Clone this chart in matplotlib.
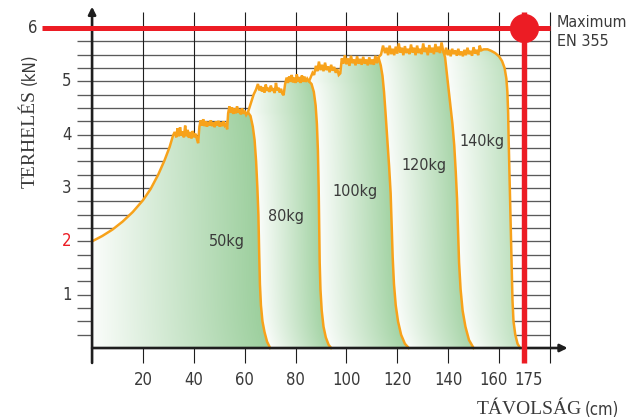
import numpy as np
import matplotlib
matplotlib.use('Agg')
import matplotlib.pyplot as plt
from matplotlib.patches import Polygon
from matplotlib.colors import to_rgb

# ---------------- data ----------------
region_labels = ['50kg', '80kg', '100kg', '120kg', '140kg']
label_x = [53.1, 76.3, 103.4, 130.6, 153.3]
label_y = [1.99, 2.46, 2.93, 3.43, 3.87]

# top (plateau) curves
top50_x = [0, 4, 8, 12, 16, 20, 23, 26, 28.5, 30.5, 31.8,
           32.5, 33.1, 33.6, 34.1, 34.6, 35.1, 35.6, 36.1, 36.6, 37.1, 37.6, 38.1, 38.6, 39.1, 39.6, 40.1, 40.6, 41.2, 41.7,
           42.2, 42.7, 43.2, 43.7, 44.2, 44.7, 45.2, 45.7, 46.2, 46.7, 47.2, 47.7, 48.2, 48.7, 49.2, 49.7, 50.2, 50.7, 51.2, 51.7, 52.2, 52.7, 53.1,
           53.5, 54, 54.5, 55, 55.5, 56, 56.5, 57, 57.5, 58, 58.5, 59, 59.5, 60, 60.6, 61.3]
top50_y = [2.0, 2.1, 2.22, 2.37, 2.55, 2.77, 2.98, 3.25, 3.52, 3.77, 3.98,
           4.05, 3.95, 4.12, 3.97, 4.14, 3.98, 4.06, 3.95, 4.17, 3.97, 4.09, 3.94, 4.05, 3.93, 4.07, 3.95, 4.02, 3.92, 3.84,
           4.15, 4.27, 4.17, 4.29, 4.16, 4.25, 4.15, 4.24, 4.17, 4.27, 4.16, 4.23, 4.14, 4.25, 4.17, 4.26, 4.15, 4.23, 4.16, 4.25, 4.17, 4.2, 4.1,
           4.4, 4.53, 4.41, 4.51, 4.39, 4.49, 4.4, 4.53, 4.41, 4.48, 4.38, 4.49, 4.39, 4.45, 4.37, 4.42]

top80_x = [62.5, 63.5, 64.5, 65.2, 65.8, 66.3, 66.8, 67.3, 67.8, 68.3, 68.8, 69.3, 69.8, 70.3, 70.8, 71.3, 71.8, 72.3, 72.8,
           73.3, 73.8, 74.3, 74.8, 75.3, 75.9, 76.5, 77, 77.5, 78, 78.5, 79, 79.5, 80, 80.5, 81, 81.5, 82, 82.5, 83, 83.5, 84, 84.6, 85.3]
top80_y = [4.6, 4.75, 4.85, 4.95, 4.83, 4.91, 4.81, 4.89, 4.79, 4.94, 4.82, 4.88, 4.8, 4.92, 4.82, 4.87, 4.78, 4.97, 4.83,
           4.88, 4.79, 4.86, 4.77, 4.74, 4.95, 5.07, 4.97, 5.09, 4.99, 5.12, 4.98, 5.07, 4.97, 5.13, 4.99, 5.08, 4.97, 5.11, 4.99, 5.09, 4.99, 5.05, 5.0]

top100_x = [86, 86.7, 87.3, 88, 88.6, 89.2, 89.8, 90.4, 91, 91.6, 92.2, 92.8, 93.4, 94, 94.6, 95.2, 95.8, 96.4, 97, 97.6,
            98.2, 98.8, 99.4, 100, 100.6, 101.2, 101.8, 102.4, 103, 103.6, 104.2, 104.8, 105.4, 106, 106.6, 107.2, 107.8,
            108.4, 109, 109.6, 110.2, 110.8, 111.4, 112, 112.6]
top100_y = [5.08, 5.16, 5.12, 5.29, 5.19, 5.37, 5.21, 5.31, 5.19, 5.35, 5.21, 5.28, 5.17, 5.31, 5.2, 5.27, 5.16, 5.23, 5.12, 5.15,
            5.43, 5.33, 5.49, 5.32, 5.43, 5.29, 5.48, 5.34, 5.41, 5.3, 5.47, 5.33, 5.42, 5.31, 5.46, 5.33, 5.41,
            5.3, 5.45, 5.32, 5.41, 5.31, 5.48, 5.34, 5.45]

top120_x = [113.6, 114.4, 115.2, 115.8, 116.4, 117, 117.6, 118.2, 118.8, 119.4, 120, 120.6, 121.2, 121.8, 122.4, 123, 123.6,
            124.2, 124.8, 125.4, 126, 126.6, 127.2, 127.8, 128.4, 129, 129.6, 130.2, 130.8, 131.4, 132, 132.6, 133.2, 133.8,
            134.4, 135, 135.6, 136.2, 136.8, 137.4, 138]
top120_y = [5.5, 5.67, 5.53, 5.63, 5.49, 5.67, 5.51, 5.61, 5.49, 5.65, 5.52, 5.71, 5.54, 5.63, 5.49, 5.66, 5.53,
            5.61, 5.51, 5.69, 5.54, 5.63, 5.49, 5.67, 5.53, 5.61, 5.51, 5.71, 5.55, 5.63, 5.49, 5.68, 5.54, 5.63,
            5.51, 5.7, 5.55, 5.65, 5.53, 5.73, 5.58]

top140_x = [138.6, 139.2, 139.8, 140.4, 141, 141.6, 142.2, 142.8, 143.4, 144, 144.6, 145.2, 145.8, 146.4, 147, 147.6,
            148.2, 148.8, 149.4, 150, 150.6, 151.2, 151.8, 152.4, 153, 154, 155.5, 157]
top140_y = [5.5, 5.63, 5.49, 5.59, 5.47, 5.61, 5.51, 5.58, 5.48, 5.61, 5.49, 5.56, 5.47, 5.59, 5.49, 5.63,
            5.51, 5.57, 5.48, 5.64, 5.52, 5.59, 5.49, 5.67, 5.58, 5.6, 5.6, 5.57]

# right (falling) edges, from below the corner down to the x axis
edge50_x = [62.3, 63.2, 63.9, 64.5, 65, 65.4, 65.7, 66, 66.4, 67, 67.8, 68.8, 70]
edge50_y = [4.35, 4.15, 3.9, 3.5, 3.0, 2.5, 1.8, 1.2, 0.8, 0.5, 0.3, 0.12, 0]
edge80_x = [86.3, 87.2, 87.9, 88.4, 88.8, 89.1, 89.3, 89.5, 89.8, 90.3, 91, 91.9, 93, 94]
edge80_y = [4.95, 4.8, 4.55, 4.2, 3.7, 3.0, 2.3, 1.6, 1.1, 0.7, 0.4, 0.2, 0.06, 0]
edge100_x = [113.5, 114.2, 114.8, 115.4, 116.1, 116.8, 117.4, 117.8, 118.2, 118.7, 119.4, 120.3, 121.5, 123, 124.5]
edge100_y = [5.3, 5.1, 4.8, 4.4, 3.9, 3.4, 2.9, 2.3, 1.7, 1.2, 0.8, 0.5, 0.25, 0.08, 0]
edge120_x = [138.8, 139.6, 140.3, 141, 141.7, 142.4, 143, 143.5, 143.9, 144.3, 144.9, 145.7, 146.8, 148.2, 150]
edge120_y = [5.45, 5.1, 4.8, 4.5, 4.2, 3.8, 3.3, 2.8, 2.2, 1.6, 1.1, 0.7, 0.4, 0.15, 0]
edge140_x = [158.5, 160, 161.2, 162.2, 162.9, 163.3, 163.6, 163.8, 164.1, 164.4, 164.7, 165, 165.3, 165.7, 166.4, 167.3, 168.3]
edge140_y = [5.53, 5.47, 5.38, 5.25, 5.05, 4.8, 4.4, 3.9, 3.3, 2.7, 2.1, 1.5, 0.9, 0.5, 0.25, 0.08, 0]

xtick_vals = [20, 40, 60, 80, 100, 120, 140, 160, 170]
xtick_labels = ['20', '40', '60', '80', '100', '120', '140', '160', '175']
ytick_vals = [1, 2, 3, 4, 5, 6]
ytick_labels = ['1', '2', '3', '4', '5', '6']
hgrid_vals = np.arange(0.25, 5.76, 0.25)
vgrid_vals = [20, 40, 60, 80, 100, 120, 140, 160, 180]
max_load = 6
max_dist = 170

# ---------------- styling ----------------
NARROW = dict(family='DejaVu Sans', fontstretch='condensed')
SERIF = ['Liberation Serif', 'DejaVu Serif']
TXT = '#3a3a3a'
RED = '#ec1c24'
ORANGE = '#f7a21b'
WHITE_C = np.array(to_rgb('#fbfdfb'))
end_colors = ['#9ccf9d', '#a3d3a4', '#a3d3a4', '#a8d5a9', '#bfe1c0']

fig = plt.figure(figsize=(6.31, 4.19), dpi=100)
ax = fig.add_axes([0, 0, 1, 1])
ax.set_axis_off()
XL = (-36.2, 211.9)
YL = (-1.331, 6.525)

# grid
for i, yv in enumerate(hgrid_vals):
    ax.plot([-6, 180], [yv, yv], color='#5a5a5a', lw=0.95, zorder=1, solid_capstyle='butt')
for xv in vgrid_vals:
    ax.plot([xv, xv], [-0.28, 6.3], color='#1e1e1e', lw=0.8, zorder=1, solid_capstyle='butt')

tops = [(top50_x, top50_y), (top80_x, top80_y), (top100_x, top100_y), (top120_x, top120_y), (top140_x, top140_y)]
edges = [(edge50_x, edge50_y), (edge80_x, edge80_y), (edge100_x, edge100_y), (edge120_x, edge120_y), (edge140_x, edge140_y)]

full_tops = []
full_edges = []
for k in range(len(tops)):
    tx, ty = list(tops[k][0]), list(tops[k][1])
    if k > 0:
        cx, cy = full_tops[k - 1][0][-1], full_tops[k - 1][1][-1]
        tx = [cx] + tx
        ty = [cy] + ty
    full_tops.append((tx, ty))
for k in range(len(edges)):
    cx, cy = full_tops[k][0][-1], full_tops[k][1][-1]
    full_edges.append(([cx] + list(edges[k][0]), [cy] + list(edges[k][1])))

for k in range(len(tops)):
    tx, ty = full_tops[k]
    ex, ey = full_edges[k]
    px = tx + ex[1:]
    py = ty + ey[1:]
    if k == 0:
        px = px + [0]
        py = py + [0]
    else:
        pex, pey = full_edges[k - 1]
        px = px + pex[::-1][:-1]
        py = py + pey[::-1][:-1]
    poly = Polygon(np.column_stack([px, py]), closed=True, facecolor='none', edgecolor='none')
    ax.add_patch(poly)
    xmin, xmax = min(px), max(px)
    ymax = max(py)
    nx, ny = 300, 300
    gx = np.linspace(xmin, xmax, nx)
    gy = np.linspace(0, ymax, ny)
    X, Y = np.meshgrid(gx, gy)
    xr = np.interp(gy, ey[::-1], ex[::-1])
    if k == 0:
        xl = np.zeros_like(gy)
    else:
        pex, pey = full_edges[k - 1]
        xl = np.interp(gy, pey[::-1], pex[::-1])
    t = np.clip((X - xl[:, None]) / np.maximum(xr - xl, 1e-6)[:, None], 0, 1)
    endc = np.array(to_rgb(end_colors[k]))
    img = WHITE_C[None, None, :] + (endc - WHITE_C)[None, None, :] * t[:, :, None]
    im = ax.imshow(img, extent=[xmin, xmax, 0, ymax], origin='lower', aspect='auto', zorder=2,
                   interpolation='bilinear')
    im.set_clip_path(poly)

for k in range(len(tops)):
    tx, ty = full_tops[k]
    ex, ey = full_edges[k]
    ax.plot(tx + ex[1:], ty + ey[1:], color=ORANGE, lw=1.8, zorder=3, solid_joinstyle='miter')

for lab, lx, ly in zip(region_labels, label_x, label_y):
    ax.text(lx, ly, lab, fontsize=11.5, color=TXT, ha='center', va='center', zorder=4, **NARROW)

# axes with arrows
ax.annotate('', xy=(0, 6.4), xytext=(0, -0.28),
            arrowprops=dict(arrowstyle='-|>', lw=1.9, color='#1e1e1e', mutation_scale=11, shrinkA=0, shrinkB=0),
            zorder=5)
ax.annotate('', xy=(187, 0), xytext=(0, 0),
            arrowprops=dict(arrowstyle='-|>', lw=1.9, color='#1e1e1e', mutation_scale=11, shrinkA=0, shrinkB=0),
            zorder=5)

# red max lines
ax.plot([-19.7, 180], [max_load, max_load], color=RED, lw=3.6, zorder=6, solid_capstyle='butt')
ax.plot([max_dist, max_dist], [-0.28, 6.3], color=RED, lw=3.9, zorder=6, solid_capstyle='butt')
ax.plot([max_dist], [max_load], 'o', color=RED, markersize=20, zorder=7)

# tick labels
x_nudge = {'160': -2.2, '175': 1.8}
for xv, lab in zip(xtick_vals, xtick_labels):
    ax.text(xv + x_nudge.get(lab, 0), -0.6, lab, fontsize=12, color=TXT,
            ha='center', va='center', **NARROW)
for yv, lab in zip(ytick_vals, ytick_labels):
    xpos = -23.2 if yv == 6 else -9.9
    col = RED if yv == 2 else TXT
    ax.text(xpos, yv, lab, fontsize=12, color=col, ha='center', va='center', **NARROW)

# axis titles
ax.text(-24.4, 3.92, 'TERHELÉS', family=SERIF, fontsize=14, color=TXT, rotation=90, ha='center', va='center')
ax.text(-24.4, 4.93, '(kN)', fontsize=12, color=TXT, rotation=90, ha='center', va='bottom', **NARROW)
ax.text(171.8, -1.16, 'TÁVOLSÁG', family=SERIF, fontsize=14, color=TXT, ha='center', va='center')
ax.text(193.6, -1.16, '(cm)', fontsize=12, color=TXT, ha='left', va='center', **NARROW)

ax.text(182.8, 6.11, 'Maximum', fontsize=11.5, color=TXT, ha='left', va='center', **NARROW)
ax.text(182.8, 5.74, 'EN 355', fontsize=11.5, color=TXT, ha='left', va='center', **NARROW)

ax.set_xlim(*XL)
ax.set_ylim(*YL)
fig.savefig('out.png', dpi=100)
